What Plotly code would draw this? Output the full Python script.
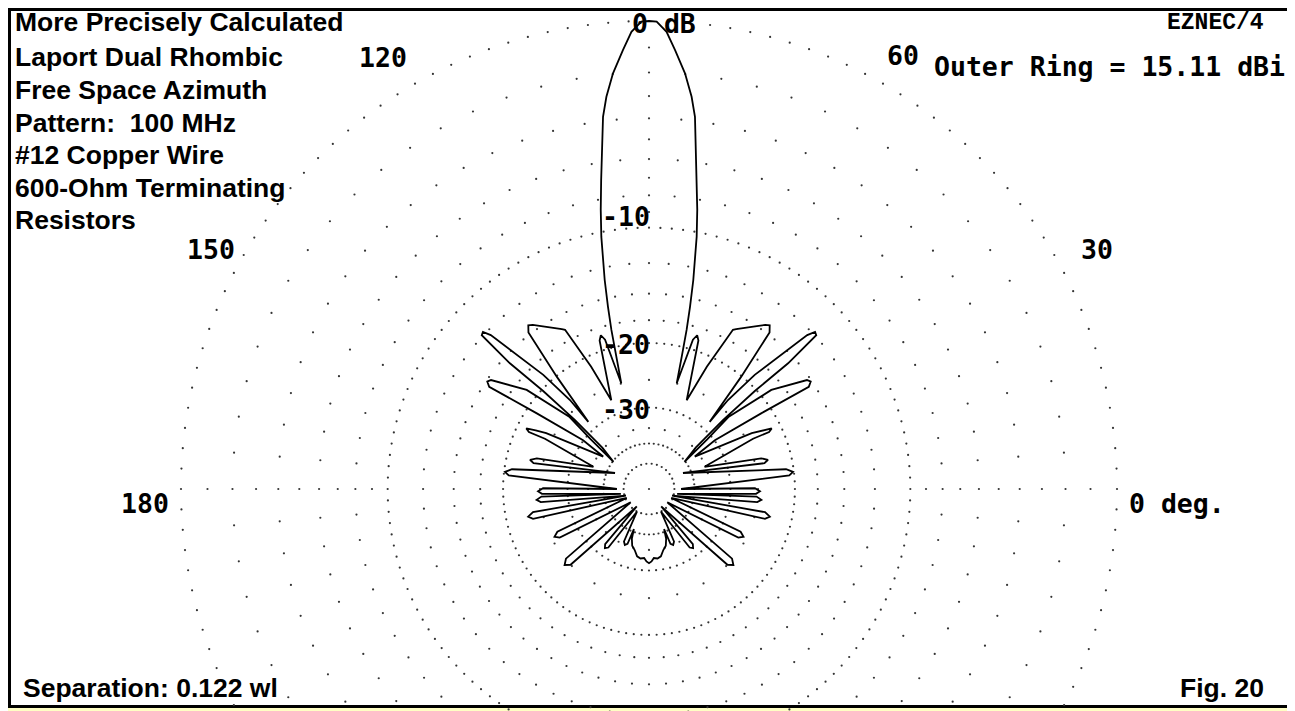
import numpy as np
import plotly.graph_objects as go

# ---------------- data ----------------
# Right half of the free-space azimuth pattern (mirror-symmetric about 90 deg),
# traced in plotting order. angle in degrees (0 = right, 90 = up),
# gain in dB relative to the outer ring (0 dB = 15.11 dBi).
half_angle = [90, 89.06, 87.8, 86.6, 85.05, 83.8, 82.96, 82.1, 81.2, 80.2, 79.3, 78.03, 77.3, 76.7, 76.1, 75.3,
              73.6, 72.6, 71.6, 67,
              64.7, 62.2, 61.4, 59, 56.5, 54.7, 53.6, 52.4, 50.6, 47.9,
              48.4, 47.2, 45.3, 44.2, 43.4, 42.6, 42.1, 42.8, 43, 41.5, 37.4,
              40.5, 42.2, 39, 34.6, 33.6, 32.6, 34, 36.5, 35.3,
              28.5, 27.4, 26.3, 25.4, 25.8, 21.8,
              15.3, 13.8, 12.6, 19.5, 25.2,
              8.2, 6.8, 5.5, 0,
              0.4, -1.2, -2.6, -10,
              -4, -5.5, -6.9, -16,
              -11.3, -12.9, -14.4, -22,
              -25, -26.8, -28.6, -36,
              -40, -42, -44, -55,
              -51.5, -53.3, -55.2, -62,
              -64.5, -66.6, -68.6, -69.4,
              -71, -73.5, -76.8, -80, -83, -86, -88, -90]
half_db = [0, -0.02, -0.39, -1.07, -1.97, -2.93, -3.8, -5.37, -6.92, -8.6, -10.3, -13.46, -15.8, -18.05, -21.2, -24.95,
           -18.9, -18.3, -18.8, -27.1,
           -21.3, -16.4, -16.2, -15.6, -15, -14.5, -14.3, -14.8, -20.1, -28.2,
           -23.5, -18.9, -15.2, -12.9, -12.3, -12.4, -15.7, -20.2, -26.3, -34.6, -40.3,
           -31, -25.3, -18.7, -15.3, -15.1, -15.5, -21.3, -29.9, -36.4,
           -23.8, -22.3, -21.1, -21.6, -24, -35.3,
           -23.9, -23.0, -23.6, -37, -43.3,
           -20.9, -20.1, -20.6, -46,
           -25.5, -24.7, -25.3, -48,
           -25.2, -24.4, -25, -51,
           -23.6, -22.8, -23.4, -51,
           -26.3, -25.5, -26.2, -52,
           -25.1, -24.3, -25, -53,
           -32.5, -31.7, -32.3, -50,
           -35.8, -35, -35.6, -41,
           -37.5, -35.5, -34.5, -33, -32.6, -32.8, -32, -31.6]

ring_db = [0, -10, -20, -30, -40, -50]
ring_step_deg = [2.5, 2.5, 3, 5, 6, 12]
label_ring_db = [-10, -20, -30]
label_ring_text = ["-10", "-20", "-30"]

info_lines = ["More Precisely Calculated", "Laport Dual Rhombic", "Free Space Azimuth",
              "Pattern:\u00a0 100 MHz", "#12 Copper Wire", "600-Ohm Terminating", "Resistors"]
angle_label_text = ["120", "60", "150", "30", "180", "0 deg."]
outer_ring_text = "Outer Ring = 15.11 dBi"
program_text = "EZNEC/4"
footer_left = "Separation: 0.122 wl"
footer_right = "Fig. 20"

# ---------------- geometry ----------------
# The page body has an 8 px margin, so the figure starts at screen (8, 8).
OFF = 8
SW, SH = 1295, 711                 # screen size
W, H = SW - OFF, SH - OFF          # figure size
CX, CY, R = 649, 489, 468          # screen centre and outer-ring radius in pixels


def rho(db):
    """ARRL log scale: 0.89 per 2 dB."""
    return 0.89 ** (-np.asarray(db, dtype=float) / 2.0)


def to_xy(theta_deg, db):
    t = np.radians(np.asarray(theta_deg, dtype=float))
    r = rho(db)
    return r * np.cos(t), r * np.sin(t)


def px(x):
    return (x - OFF) / W


def py(y):
    return 1 - (y - OFF) / H


# full pattern (mirror right half onto left half)
full_angle = list(half_angle) + [180 - a for a in reversed(half_angle[:-1])]
full_db = list(half_db) + list(reversed(half_db[:-1]))
pat_x, pat_y = to_xy(full_angle, full_db)

# grid dots
g_t, g_d = [], []
for db, step in zip(ring_db, ring_step_deg):
    for a in np.arange(0, 360, step):
        g_t.append(a); g_d.append(db)
for db in [-1, -3, -5, -7, -9]:
    for a in [0, 90, 180, 270]:
        g_t.append(a); g_d.append(db)
for db in [-2, -4, -6, -8, -12.5, -15, -17.5]:
    for a in np.arange(0, 360, 5):
        g_t.append(a); g_d.append(db)
for db in [-25, -35]:
    for a in np.arange(0, 360, 15):
        g_t.append(a); g_d.append(db)
gx, gy = to_xy(g_t, g_d)
gx = np.append(gx, 0.0)
gy = np.append(gy, 0.0)

fig = go.Figure()
fig.add_trace(go.Scatter(x=gx, y=gy, mode="markers", hoverinfo="skip",
                         marker=dict(size=2.2, color="#333333", line=dict(width=0))))
fig.add_trace(go.Scatter(x=pat_x, y=pat_y, mode="lines", hoverinfo="skip",
                         line=dict(color="black", width=1.8)))

SANS = dict(family="Liberation Sans", size=26.5, color="black", weight="bold")
MONO = dict(family="DejaVu Sans Mono", size=26.5, color="black", weight="bold")
PROG = dict(family="Liberation Mono", size=23, color="black", weight="bold")

ann = []
info_y = [22, 57, 90, 123, 155, 188, 220]
for t, yy in zip(info_lines, info_y):
    ann.append(dict(text=t, x=px(13), y=py(yy), xanchor="left", yanchor="middle", font=SANS))

angle_pos = [(357, 57), (885, 55), (185, 249), (1079, 249), (119, 503), (1127, 503)]
for t, (xx, yy) in zip(angle_label_text, angle_pos):
    ann.append(dict(text=t, x=px(xx), y=py(yy), xanchor="left", yanchor="middle", font=MONO))

ann.append(dict(text=outer_ring_text, x=px(932), y=py(67), xanchor="left", yanchor="middle", font=MONO))
ann.append(dict(text=program_text, x=px(1266), y=py(OFF), xanchor="right", yanchor="top", font=PROG))
ann.append(dict(text="0 dB", x=px(630), y=py(24), xanchor="left", yanchor="middle", font=MONO))
ann.append(dict(text=footer_left, x=px(21), y=py(688), xanchor="left", yanchor="middle", font=SANS))
ann.append(dict(text=footer_right, x=px(1266), y=py(688), xanchor="right", yanchor="middle", font=SANS))

label_shift = [11, -1, -2]
for db, t, s in zip(label_ring_db, label_ring_text, label_shift):
    ann.append(dict(text=t, x=0, y=float(rho(db)), xref="x", yref="y", xanchor="right", yanchor="middle",
                    xshift=3, yshift=s, font=MONO))

for a in ann:
    a.setdefault("xref", "paper")
    a.setdefault("yref", "paper")
    a["showarrow"] = False

fig.update_layout(
    width=W, height=H, margin=dict(l=0, r=0, t=0, b=0),
    paper_bgcolor="#FFFFC4", plot_bgcolor="#FFFFC4",
    showlegend=False, annotations=ann,
    xaxis=dict(range=[(OFF - CX) / R, (SW - CX) / R], visible=False, fixedrange=True),
    yaxis=dict(range=[-(SH - CY) / R, (CY - OFF) / R], visible=False, fixedrange=True),
    shapes=[dict(type="rect", xref="paper", yref="paper", layer="below",
                 x0=px(9.5), x1=px(1288.5), y0=py(706.5), y1=py(9.5),
                 line=dict(color="black", width=3), fillcolor="white")],
)

fig.write_html("out.html")
